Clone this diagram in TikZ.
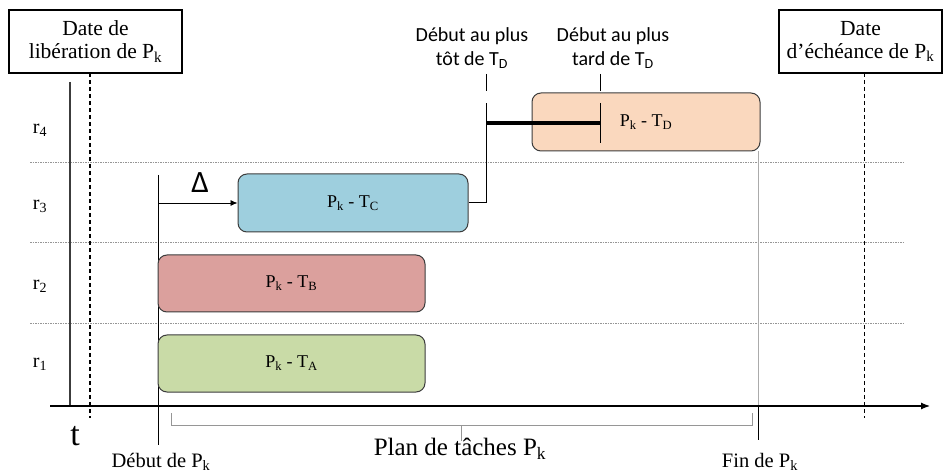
\documentclass[tikz,border=0pt]{standalone}
\usepackage{fontspec}
\setmainfont{Liberation Serif}
\newfontfamily\sansf{Carlito}
\usetikzlibrary{arrows.meta}
\definecolor{cA}{RGB}{201,219,167}
\definecolor{cB}{RGB}{219,160,157}
\definecolor{cC}{RGB}{158,207,222}
\definecolor{cD}{RGB}{250,216,190}
\definecolor{edgec}{RGB}{60,60,60}
\definecolor{gridc}{RGB}{150,150,150}
\begin{document}
\begin{tikzpicture}[x=1pt,y=-1pt,
  task/.style={draw=edgec, line width=1pt, rounded corners=9pt, font=\fontsize{18}{20}\selectfont},
  datebox/.style={draw=black, line width=1.3pt, align=center, inner sep=0pt, font=\fontsize{21.5}{23}\selectfont},
  rowline/.style={gridc, line width=0.8pt, dash pattern=on 1.5pt off 1pt},
  lbl/.style={font=\fontsize{20}{22}\selectfont},
  sanslbl/.style={align=center, font=\sansf\fontsize{20}{24}\selectfont}]
\useasboundingbox (0,0) rectangle (946,473);

% date boxes
\node[datebox, minimum width=173pt, minimum height=63pt] (lib) at (95.5,41.5) {Date de\\libération de P\textsubscript{k}};
\node[datebox, minimum width=163pt, minimum height=63pt] (ech) at (860.5,41.5) {Date\\d’échéance de P\textsubscript{k}};

% row separators
\draw[rowline] (30,162) -- (905,162);
\draw[rowline] (30,242) -- (905,242);
\draw[rowline] (30,323) -- (905,323);

% row labels
\node[lbl] (r4) at (40,130) {r\textsubscript{4}};
\node[lbl] (r3) at (40,206) {r\textsubscript{3}};
\node[lbl] (r2) at (40,286) {r\textsubscript{2}};
\node[lbl] (r1) at (40,364) {r\textsubscript{1}};

% vertical lines
\draw[line width=1.2pt, edgec] (70,82) -- (70,406);
\draw[line width=1.2pt, dash pattern=on 4pt off 3pt] (90,73) -- (90,418);
\draw[line width=0.9pt, dash pattern=on 4pt off 3pt] (864,73) -- (864,418);
\draw[line width=1pt] (158,175) -- (158,445);

% tasks
\node[task, fill=cA, minimum width=267pt, minimum height=57pt] (TA) at (291.5,363.5) {P\textsubscript{k} - T\textsubscript{A}};
\node[task, fill=cB, minimum width=267pt, minimum height=57pt] (TB) at (291.5,283.5) {P\textsubscript{k} - T\textsubscript{B}};
\node[task, fill=cC, minimum width=230pt, minimum height=58pt] (TC) at (353,203) {P\textsubscript{k} - T\textsubscript{C}};
\node[task, fill=cD, minimum width=228pt, minimum height=58pt] (TD) at (646,122) {P\textsubscript{k} - T\textsubscript{D}};

% delta arrow
\coordinate (dstart) at (158,203);
\draw[line width=0.8pt, -{Latex[length=7pt,width=6pt]}] (dstart) -- (TC.west);
\node[font=\sansf\fontsize{31}{31}\selectfont] (delta) at (200,183) {Δ};

% earliest / latest start
\coordinate (tc1) at (486,203);
\coordinate (tc2) at (486,103);
\draw[line width=1pt] (TC.east) -- (tc1) -- (tc2);
\draw[line width=1pt] (486,74) -- (486,91);
\draw[line width=4pt] (486,123) -- (600,123);
\draw[line width=1pt] (600,74) -- (600,91);
\draw[line width=1pt] (600,103) -- (600,143);
\node[sanslbl] (early) at (472,48) {Début au plus\\tôt de T\textsubscript{D}};
\node[sanslbl] (late) at (613,48) {Début au plus\\tard de T\textsubscript{D}};

% end of plan
\draw[line width=0.8pt, gridc!80] (758,151) -- (758,406);
\draw[line width=1pt] (758,406) -- (758,440);

% axis
\draw[line width=1.2pt, -{Latex[length=9pt,width=7pt]}] (50,406) -- (930,406);

% bracket
\draw[gridc, line width=1pt] (171,413) -- (171,425) -- (752,425) -- (752,413);
\draw[gridc, line width=1pt] (461,425) -- (461,441);

% bottom labels
\node[font=\fontsize{34}{34}\selectfont] (t) at (75,436) {t};
\node[font=\fontsize{20.5}{22}\selectfont] (deb) at (161,462) {Début de P\textsubscript{k}};
\node[font=\fontsize{20.5}{22}\selectfont] (fin) at (760,462) {Fin de P\textsubscript{k}};
\node[font=\fontsize{25}{27}\selectfont] (plan) at (460,449) {Plan de tâches P\textsubscript{k}};
\end{tikzpicture}
\end{document}
